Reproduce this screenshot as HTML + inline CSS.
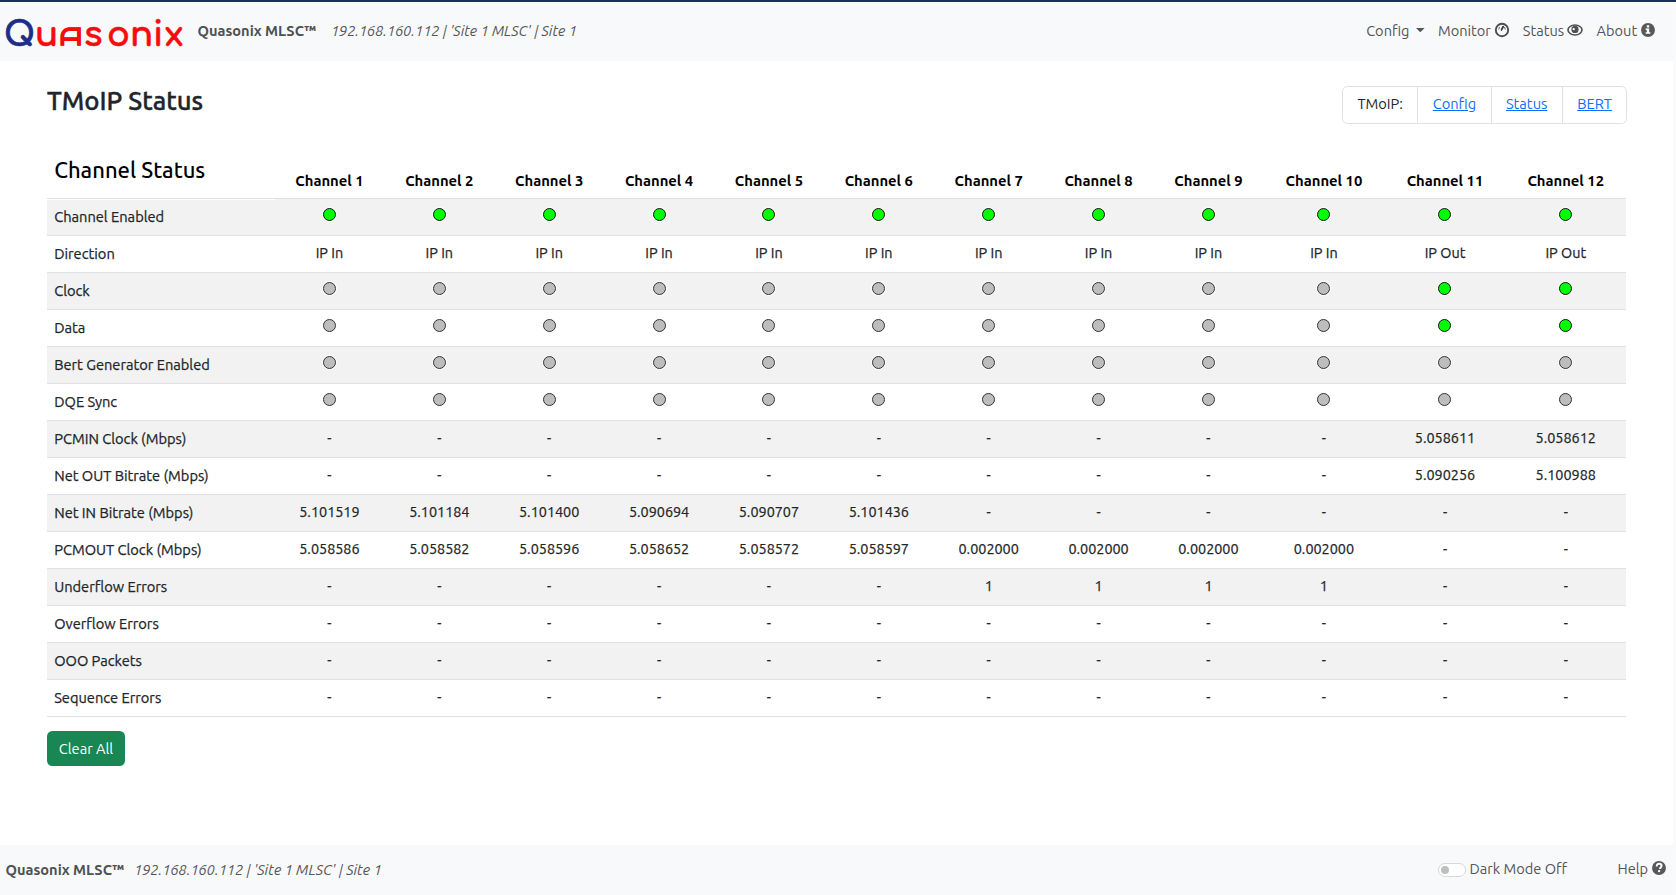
<!DOCTYPE html>
<html lang="en">
<head>
<meta charset="utf-8">
<title>TMoIP Status</title>
<style>
*{box-sizing:border-box}
html,body{margin:0;padding:0}
body{width:1676px;height:895px;overflow:hidden;position:relative;background:#fff;
 font-family:"Ubuntu","Liberation Sans",sans-serif;font-size:14.4px;line-height:21.6px;color:#212529;font-weight:400}
.topline{position:absolute;left:0;top:0;width:1676px;height:2px;background:#173159}
.navbar{position:absolute;left:0;top:3px;width:1673px;height:58px;background:#f8f9fa}
.strip{position:absolute;left:1673px;top:3px;width:3px;height:892px;background:#fafafa}
.logo{position:absolute;left:0;top:14px}
.brand{position:absolute;left:197.5px;top:17px;font-size:14.6px;font-weight:700;color:#4f5051;white-space:nowrap}
.ip{position:absolute;left:331px;top:18px;font-style:italic;color:#555;white-space:nowrap}
.nav{position:absolute;top:17px;color:#555;font-size:14.6px;white-space:nowrap}
.ic{position:absolute}
h3{position:absolute;left:47px;top:86px;margin:0;-webkit-text-stroke:0.4px currentColor;font-size:25.7px;line-height:30px;font-weight:500;color:#212529}
.tm{position:absolute;left:1342px;top:86px;height:38px;display:flex;font-size:14.65px;border:1px solid #dee2e6;border-radius:5.4px;background:#fff}
.tm div{padding:6.4px 14.4px 8px;border-left:1px solid #dee2e6;height:36px}
.tm div:first-child{border-left:0}
.tm a{color:#0d6efd;text-decoration:underline}
table{position:absolute;left:47px;top:140px;width:1579px;border-collapse:collapse;table-layout:fixed}
td,th{padding:7.2px 7.2px;border-bottom:1px solid #dee2e6;text-align:center;height:37px;white-space:nowrap}
th{font-weight:700;vertical-align:bottom;color:#000;font-size:14.8px;height:58.7px;padding-bottom:6.5px}
td{-webkit-text-stroke:0.25px currentColor}
td:first-child{text-align:left;font-size:14.65px}
tbody tr:nth-child(odd) td{background:#f2f2f2}
tbody tr:first-child td:first-child{box-shadow:inset 0 1px 0 #fff}
th.cs{text-align:left;font-weight:500;font-size:22px;line-height:26px;vertical-align:bottom;padding-bottom:15px}
.dot{display:inline-block;width:13px;height:13px;border-radius:50%;border:1px solid #111;box-shadow:0 0 0 1px rgba(255,255,255,.85);vertical-align:0px}
.g{background:#00ff00}
.x{background:#bdbdbd;border-color:#333}
.btn{position:absolute;left:47px;top:731px;width:78px;height:35px;background:#198754;border-radius:5.4px;color:#fff;
 text-align:center;line-height:35px;font-size:14.6px}
.footer{position:absolute;left:0;top:845px;width:1673px;height:50px;background:#f8f9fa}
.footer .fb{position:absolute;left:5.5px;top:13.5px;font-size:14.6px;font-weight:700;color:#4f5051}
.footer .tog{position:absolute;left:1438px;top:18px;width:28px;height:14px;border:1px solid #d6d8db;border-radius:7px;background:#fff}
.footer .tog span{position:absolute;left:2px;top:2px;width:8px;height:8px;border-radius:50%;background:#bfbfbf}
.footer .fn{position:absolute;top:13px;color:#555;font-size:14.6px}
.footer .fi{position:absolute;left:134px;top:14px;font-size:14.5px;font-style:italic;color:#555}
</style>
</head>
<body>
<div class="topline"></div>
<div class="navbar">
  <svg class="logo" width="190" height="40" viewBox="0 0 190 40"><text y="29" font-family="Comfortaa, 'Liberation Sans', sans-serif" font-weight="700" font-size="34" fill="#f50c0c" stroke="#f50c0c" stroke-width="0.5"><tspan x="4" fill="#1c2d8a" stroke="#1c2d8a" stroke-width="0.7" font-size="33.5">Q</tspan><tspan x="35">u</tspan><tspan x="59.5" y="28.2" font-family="'Bruno Ace', 'Liberation Sans', sans-serif" font-size="23.5">A</tspan><tspan x="84" y="29">s</tspan><tspan x="107">o</tspan><tspan x="130">n</tspan><tspan x="153">i</tspan><tspan x="164.5">x</tspan></text></svg>
  <div class="brand">Quasonix MLSC™</div>
  <div class="ip">192.168.160.112 | 'Site 1 MLSC' | Site 1</div>
  <div class="nav" style="left:1366.2px">Config</div>
  <svg class="ic" style="left:1415.7px;top:25px" width="9" height="5" viewBox="0 0 9 5"><path d="M0 0H8.64L4.32 4.32Z" fill="#555"/></svg>
  <div class="nav" style="left:1438px">Monitor</div>
  <svg class="ic" style="left:1493.5px;top:19px" width="16" height="16" viewBox="-8 -8 16 16"><circle r="6.2" fill="none" stroke="#4d4d4d" stroke-width="1.9"/><path d="M-3.2 -0.8L-2.6 -2.6M-0.6 -1L0.6 -3.6M3.2 -0.8L2.6 -2.6" stroke="#555" stroke-width="0.9" stroke-linecap="round"/><path d="M-0.6 0.2L1.4 -3.4" stroke="#333" stroke-width="1.4" stroke-linecap="round"/></svg>
  <div class="nav" style="left:1522.8px">Status</div>
  <svg class="ic" style="left:1567px;top:20.8px" width="16" height="12" viewBox="-8 -6 16 12"><ellipse rx="7.8" ry="5.7" fill="#505050"/><ellipse rx="6.2" ry="4.2" fill="#f8f9fa"/><circle cx="0" cy="-0.6" r="3.6" fill="#505050"/><circle cx="-1.3" cy="-0.9" r="1.2" fill="#f8f9fa"/></svg>
  <div class="nav" style="left:1596.5px">About</div>
  <svg class="ic" style="left:1640.5px;top:19.8px" width="14" height="14" viewBox="-7 -7 14 14"><circle r="6.95" fill="#585858"/><path d="M-1.2 -4.8h2.4v2.4h-2.4z M-2.4 -1.6h3.6v3.9h1.2v1.5h-4.8v-1.5h1.2v-2.4h-1.2z" fill="#fff"/></svg>
</div>
<div class="strip"></div>

<h3>TMoIP Status</h3>
<div class="tm"><div>TMoIP:</div><div><a>Config</a></div><div><a>Status</a></div><div><a>BERT</a></div></div>

<table>
<colgroup><col style="width:227.5px"><col style="width:109.875px"><col style="width:109.875px"><col style="width:109.875px"><col style="width:109.875px"><col style="width:109.875px"><col style="width:109.875px"><col style="width:109.875px"><col style="width:109.875px"><col style="width:109.875px"><col style="width:121.1px"><col style="width:121px"><col style="width:120.525px"></colgroup>
<thead><tr><th class="cs">Channel Status</th><th>Channel 1</th><th>Channel 2</th><th>Channel 3</th><th>Channel 4</th><th>Channel 5</th><th>Channel 6</th><th>Channel 7</th><th>Channel 8</th><th>Channel 9</th><th>Channel 10</th><th>Channel 11</th><th>Channel 12</th></tr></thead>
<tbody>
<tr><td>Channel Enabled</td><td><span class="dot g"></span></td><td><span class="dot g"></span></td><td><span class="dot g"></span></td><td><span class="dot g"></span></td><td><span class="dot g"></span></td><td><span class="dot g"></span></td><td><span class="dot g"></span></td><td><span class="dot g"></span></td><td><span class="dot g"></span></td><td><span class="dot g"></span></td><td><span class="dot g"></span></td><td><span class="dot g"></span></td></tr>
<tr><td>Direction</td><td>IP In</td><td>IP In</td><td>IP In</td><td>IP In</td><td>IP In</td><td>IP In</td><td>IP In</td><td>IP In</td><td>IP In</td><td>IP In</td><td>IP Out</td><td>IP Out</td></tr>
<tr><td>Clock</td><td><span class="dot x"></span></td><td><span class="dot x"></span></td><td><span class="dot x"></span></td><td><span class="dot x"></span></td><td><span class="dot x"></span></td><td><span class="dot x"></span></td><td><span class="dot x"></span></td><td><span class="dot x"></span></td><td><span class="dot x"></span></td><td><span class="dot x"></span></td><td><span class="dot g"></span></td><td><span class="dot g"></span></td></tr>
<tr><td>Data</td><td><span class="dot x"></span></td><td><span class="dot x"></span></td><td><span class="dot x"></span></td><td><span class="dot x"></span></td><td><span class="dot x"></span></td><td><span class="dot x"></span></td><td><span class="dot x"></span></td><td><span class="dot x"></span></td><td><span class="dot x"></span></td><td><span class="dot x"></span></td><td><span class="dot g"></span></td><td><span class="dot g"></span></td></tr>
<tr><td>Bert Generator Enabled</td><td><span class="dot x"></span></td><td><span class="dot x"></span></td><td><span class="dot x"></span></td><td><span class="dot x"></span></td><td><span class="dot x"></span></td><td><span class="dot x"></span></td><td><span class="dot x"></span></td><td><span class="dot x"></span></td><td><span class="dot x"></span></td><td><span class="dot x"></span></td><td><span class="dot x"></span></td><td><span class="dot x"></span></td></tr>
<tr><td>DQE Sync</td><td><span class="dot x"></span></td><td><span class="dot x"></span></td><td><span class="dot x"></span></td><td><span class="dot x"></span></td><td><span class="dot x"></span></td><td><span class="dot x"></span></td><td><span class="dot x"></span></td><td><span class="dot x"></span></td><td><span class="dot x"></span></td><td><span class="dot x"></span></td><td><span class="dot x"></span></td><td><span class="dot x"></span></td></tr>
<tr><td>PCMIN Clock (Mbps)</td><td>-</td><td>-</td><td>-</td><td>-</td><td>-</td><td>-</td><td>-</td><td>-</td><td>-</td><td>-</td><td>5.058611</td><td>5.058612</td></tr>
<tr><td>Net OUT Bitrate (Mbps)</td><td>-</td><td>-</td><td>-</td><td>-</td><td>-</td><td>-</td><td>-</td><td>-</td><td>-</td><td>-</td><td>5.090256</td><td>5.100988</td></tr>
<tr><td>Net IN Bitrate (Mbps)</td><td>5.101519</td><td>5.101184</td><td>5.101400</td><td>5.090694</td><td>5.090707</td><td>5.101436</td><td>-</td><td>-</td><td>-</td><td>-</td><td>-</td><td>-</td></tr>
<tr><td>PCMOUT Clock (Mbps)</td><td>5.058586</td><td>5.058582</td><td>5.058596</td><td>5.058652</td><td>5.058572</td><td>5.058597</td><td>0.002000</td><td>0.002000</td><td>0.002000</td><td>0.002000</td><td>-</td><td>-</td></tr>
<tr><td>Underflow Errors</td><td>-</td><td>-</td><td>-</td><td>-</td><td>-</td><td>-</td><td>1</td><td>1</td><td>1</td><td>1</td><td>-</td><td>-</td></tr>
<tr><td>Overflow Errors</td><td>-</td><td>-</td><td>-</td><td>-</td><td>-</td><td>-</td><td>-</td><td>-</td><td>-</td><td>-</td><td>-</td><td>-</td></tr>
<tr><td>OOO Packets</td><td>-</td><td>-</td><td>-</td><td>-</td><td>-</td><td>-</td><td>-</td><td>-</td><td>-</td><td>-</td><td>-</td><td>-</td></tr>
<tr><td>Sequence Errors</td><td>-</td><td>-</td><td>-</td><td>-</td><td>-</td><td>-</td><td>-</td><td>-</td><td>-</td><td>-</td><td>-</td><td>-</td></tr>
</tbody></table>

<div class="btn">Clear All</div>

<div class="footer">
  <div class="fb">Quasonix MLSC™</div>
  <div class="fi">192.168.160.112 | 'Site 1 MLSC' | Site 1</div>
  <div class="tog"><span></span></div>
  <div class="fn" style="left:1469.5px">Dark Mode Off</div>
  <div class="fn" style="left:1617.5px">Help</div>
  <svg class="ic" style="left:1651.5px;top:15.5px" width="14" height="14" viewBox="-7 -7 14 14"><circle r="6.95" fill="#585858"/><path d="M-2.3 -1.6C-2.3 -3.4 -1.2 -4.3 0.2 -4.3C1.7 -4.3 2.6 -3.4 2.6 -2.2C2.6 -0.6 0.9 -0.4 0.9 0.9" fill="none" stroke="#fff" stroke-width="1.9"/><rect x="-0.9" y="2.1" width="2" height="2" fill="#fff"/></svg>
</div>
</body>
</html>
